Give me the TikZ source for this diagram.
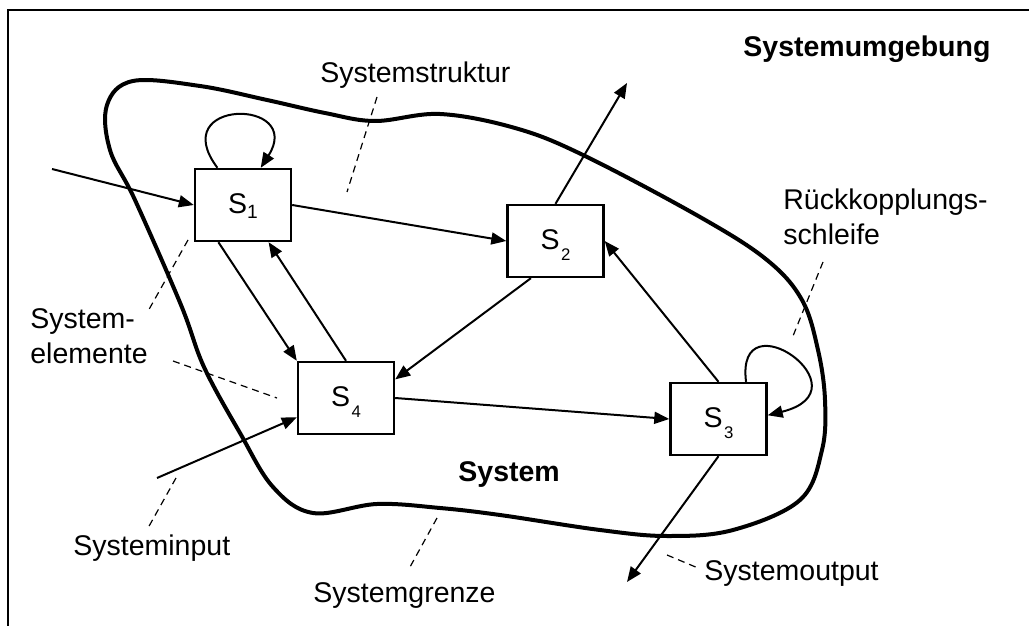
\documentclass[tikz,border=0pt]{standalone}
\usepackage{fontspec}
\setmainfont{Liberation Sans}
\usetikzlibrary{arrows.meta,calc}

% text size of all labels and element names
\newcommand\dgmfont{\fontsize{14.25}{17}\selectfont}
% element indices: tight (S1) and dropped (S2..S4)
\newcommand\idxtight[1]{\raisebox{-2.5pt}{\fontsize{9.6}{9.6}\selectfont #1}}
\newcommand\idxlow[1]{\hspace{0.8pt}\raisebox{-5.5pt}{\fontsize{8.4}{8.4}\selectfont #1}}

\begin{document}
\begin{tikzpicture}[x=0.5pt,y=-0.5pt,
  elem/.style={draw,fill=white,line width=1.2pt,minimum width=48pt,minimum height=36pt,
    inner sep=0pt,text height=10.2pt,text depth=2pt,font=\dgmfont},
  flow/.style={line width=1pt,-{Triangle[length=7.5pt,width=6pt]}},
  leader/.style={line width=0.6pt,dash pattern=on 3.5pt off 2.5pt},
  boundary/.style={line width=2pt,line join=round},
  lbl/.style={anchor=base west,inner sep=0pt,font=\dgmfont},
  lblbold/.style={lbl,font=\dgmfont\bfseries}
]
\useasboundingbox (0,0) rectangle (1029,626);
\fill[white] (0,0) rectangle (1029,626);

% environment frame (only top and left edges lie inside the page)
\draw[line width=1pt] (8,626) -- (8,10) -- (1029,10);

% system boundary
\draw[boundary] plot[smooth cycle, tension=0.6] coordinates {
  (133,81) (200,86) (267,100) (325,113) (375,121) (440,114) (515,128)
  (583,155) (700,217) (767,260) (802,300) (818,350) (825,400) (822,450)
  (800,500) (733,530) (667,536) (600,530) (500,515) (440,508) (377,504)
  (313,513) (273,487) (240,433) (204,367) (181,305) (135,200) (110,150)
  (107,105)};

% system elements
\node[elem] (s1) at (243,205)   {S\idxtight{1}};
\node[elem] (s2) at (555.5,241) {S\idxlow{2}};
\node[elem] (s4) at (346,398)   {S\idxlow{4}};
\node[elem] (s3) at (718.5,419) {S\idxlow{3}};

% free ends of inputs and outputs
\coordinate (in1)  at (52,169);
\coordinate (in4)  at (157,478);
\coordinate (out2) at (627,83);
\coordinate (out3) at (627,582);

% relations
\draw[flow] (in1) -- (s1.west);
\draw[flow] (s1.east) -- (s2.west);
\draw[flow] ($(s1.south west)!0.25!(s1.south east)$) -- (s4.north west);
\draw[flow] (s4.north) -- ($(s1.south west)!0.76!(s1.south east)$);
\draw[flow] (s2.north) -- (out2);
\draw[flow] ($(s2.south west)!0.25!(s2.south east)$) -- ($(s4.north east)!0.25!(s4.south east)$);
\draw[flow] (s3.north) -- (s2.east);
\draw[flow] (s4.east) -- (s3.west);
\draw[flow] (in4) -- ($(s4.north west)!0.76!(s4.south west)$);
\draw[flow] (s3.south) -- (out3);

% feedback loops
\draw[flow] ($(s1.north west)!0.24!(s1.north east)$) .. controls (165,98) and (305,98) ..
  ($(s1.north west)!0.68!(s1.north east)$);
\draw[flow] ($(s3.north west)!0.78!(s3.north east)$) .. controls (735,295) and (870,390) ..
  ($(s3.north east)!0.45!(s3.south east)$);

% labels
\node[lbl]     (lstruct) at (320,83)  {Systemstruktur};
\node[lblbold] (lenv)    at (743,57)  {Systemumgebung};
\node[lbl]     (lfb1)    at (783,210) {Rückkopplungs-};
\node[lbl]     (lfb2)    at (783,244) {schleife};
\node[lbl]     (lel1)    at (30,328)  {System-};
\node[lbl]     (lel2)    at (30,363)  {elemente};
\node[lbl]     (lin)     at (73,555)  {Systeminput};
\node[lbl]     (lbound)  at (313,602) {Systemgrenze};
\node[lblbold] (lsys)    at (458,481) {System};
\node[lbl]     (lout)    at (704,580) {Systemoutput};

% leader lines
\draw[leader] (377,97) -- (347,192);
\draw[leader] (188,240) -- (147,313);
\draw[leader] (173,361) -- (277,398);
\draw[leader] (176,478) -- (148,528);
\draw[leader] (437,518) -- (410,567);
\draw[leader] (823,262) -- (793,336);
\draw[leader] (667,555) -- (698,568);
\end{tikzpicture}
\end{document}
